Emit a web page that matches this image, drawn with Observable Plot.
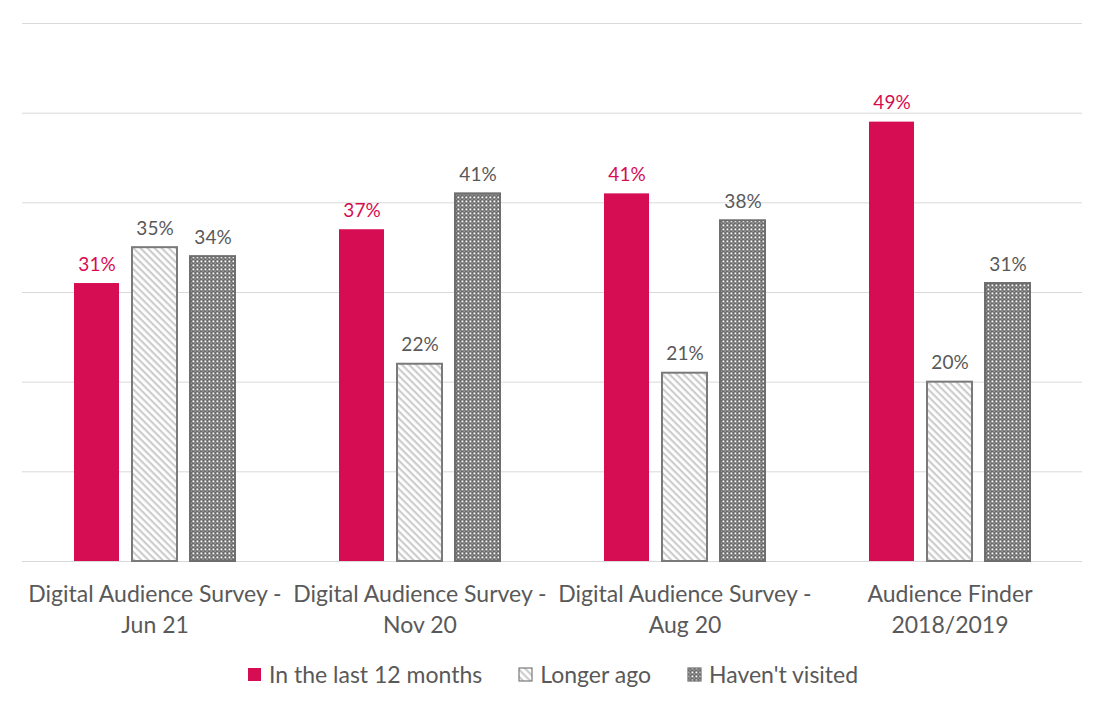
<!DOCTYPE html>
<html><head><meta charset="utf-8">
<script src="https://cdn.jsdelivr.net/npm/d3@7"></script>
<script src="https://cdn.jsdelivr.net/npm/@observablehq/plot@0.6"></script>
<style>
body{margin:0;background:#fff;font-family:Lato, "Open Sans", sans-serif;}
#legend{display:flex;justify-content:center;align-items:center;height:48px;margin-top:0px;font-size:23px;color:#595959;}
.item{display:flex;align-items:center;margin:0 18px;}
.item svg{margin-right:7px;}
</style></head><body>
<div id="chart"></div>
<div id="legend"></div>
<script>
// ---- data ----
const categories = ["DAS Jun 21", "DAS Nov 20", "DAS Aug 20", "Audience Finder"];
const categoryLabels = ["Digital Audience Survey -\nJun 21", "Digital Audience Survey -\nNov 20", "Digital Audience Survey -\nAug 20", "Audience Finder\n2018/2019"];
const series = ["In the last 12 months", "Longer ago", "Haven't visited"];
const inLast12Months = [31, 37, 41, 49];
const longerAgo = [35, 22, 21, 20];
const haventVisited = [34, 41, 38, 31];
const yTicks = [0, 10, 20, 30, 40, 50, 60];

const seriesValues = [inLast12Months, longerAgo, haventVisited];
const data = categories.flatMap((c, i) => series.map((s, j) => ({category: c, series: s, value: seriesValues[j][i]})));

// ---- styles ----
const fillOf = {"In the last 12 months": "#D60D52", "Longer ago": "url(#patLight)", "Haven't visited": "url(#patDark)"};
const strokeOf = {"In the last 12 months": "none", "Longer ago": "#7a7a7a", "Haven't visited": "#6e6e6e"};
const labelColorOf = {"In the last 12 months": "#D60D52", "Longer ago": "#595959", "Haven't visited": "#595959"};

const defsMarkup = `
<pattern id="patLight" patternUnits="userSpaceOnUse" width="5" height="5" patternTransform="rotate(45)">
  <rect width="5" height="5" fill="#ffffff"/>
  <rect y="0" width="5" height="2.2" fill="#cdcdcd"/>
</pattern>
<pattern id="patDark" patternUnits="userSpaceOnUse" width="4" height="4">
  <rect width="4" height="4" fill="#6a6a6a"/>
  <rect x="0.5" y="0.5" width="1.8" height="1.8" fill="#ffffff"/>
  <rect x="2.6" y="2.6" width="1" height="1" fill="#dcdcdc"/>
</pattern>`;

const labelMap = new Map(categories.map((c, i) => [c, categoryLabels[i]]));

const marks = [
  Plot.ruleY(yTicks, {stroke: "#d9d9d9", strokeWidth: 1})
];
for (const s of series) {
  const sub = data.filter(d => d.series === s);
  marks.push(Plot.barY(sub, {fx: "category", x: "series", y: "value", fill: fillOf[s], stroke: strokeOf[s], strokeWidth: 2}));
  marks.push(Plot.text(sub, {fx: "category", x: "series", y: "value", text: d => d.value + "%", fill: labelColorOf[s], lineAnchor: "bottom", dy: -13, fontSize: 19}));
}
marks.push(Plot.axisFx({anchor: "bottom", tickSize: 0, tickPadding: 18, fontSize: 23, lineHeight: 1.36, tickFormat: c => labelMap.get(c), label: null, fill: "#595959"}));

const chart = Plot.plot({
  width: 1105,
  height: 650,
  marginTop: 23,
  marginBottom: 89,
  marginLeft: 22,
  marginRight: 23,
  style: {fontFamily: "Lato, 'Open Sans', sans-serif", color: "#595959", background: "#fff"},
  fx: {domain: categories, paddingInner: 0, paddingOuter: 0, label: null},
  x: {domain: series, paddingInner: 0.22, paddingOuter: 0.856, axis: null},
  y: {domain: [0, 60], axis: null},
  marks
});
const defs = document.createElementNS("http://www.w3.org/2000/svg", "defs");
defs.innerHTML = defsMarkup;
chart.insertBefore(defs, chart.firstChild);
document.getElementById("chart").appendChild(chart);

// legend
const legend = document.getElementById("legend");
for (const s of series) {
  const item = document.createElement("div");
  item.className = "item";
  item.innerHTML = `<svg width="15" height="15"><rect x="1" y="1" width="13" height="13" fill="${fillOf[s]}" stroke="${strokeOf[s]}" stroke-width="1.2"/></svg><span>${s}</span>`;
  legend.appendChild(item);
}
</script>
</body></html>
